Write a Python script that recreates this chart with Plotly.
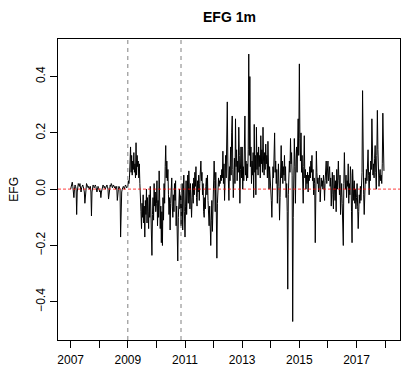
import numpy as np
import plotly.graph_objects as go

# Weekly EFG 1m series, one list per calendar year
efg_2007 = [0.00, 0.01, 0.02, 0.025, 0.01, -0.01, -0.03, 0.00, 0.015, 0.01, 0.00,
            -0.09,
            -0.01, 0.01, 0.02, 0.015, 0.01, 0.02, 0.00, -0.01, 0.005, 0.01, 0.015, 0.01, 0.00, -0.01,
            -0.05,
            -0.01, 0.01, 0.02, 0.015, 0.01, 0.005, 0.01, 0.00, 0.005, 0.01, -0.01,
            -0.095,
            -0.01, 0.01, 0.015, 0.01, 0.005, 0.01, 0.015, 0.01, 0.00, -0.01, 0.00, 0.01, 0.005]
efg_2008 = [0.00, -0.01, -0.005, -0.03,
            -0.01, 0.005, 0.01, 0.015, 0.01, 0.005, 0.01, 0.00, 0.005, 0.01, 0.015, 0.01, 0.00,
            -0.035,
            -0.005, 0.01, 0.015, 0.01, 0.02, 0.015, 0.005, 0.01, 0.015, 0.01, 0.005, 0.01, 0.00, 0.005, 0.01,
            -0.04,
            -0.005, 0.00, 0.01, 0.005, 0.00,
            -0.17,
            -0.02, -0.01, 0.00, 0.005, 0.01, 0.005, 0.00, 0.01, 0.015, 0.01, 0.005, 0.01]
efg_2009 = [0.01, 0.03, 0.02, 0.04, 0.08, 0.15, 0.06, 0.12, 0.05, 0.10, 0.07, 0.13, 0.06,
            0.09, 0.04, 0.165, 0.05, 0.12, 0.08, 0.10, 0.04, 0.09, 0.02, -0.01, -0.08, -0.14,
            -0.05, -0.10, -0.02, -0.12, -0.06, -0.17, -0.04, -0.09, 0.00, -0.12, -0.03, -0.08,
            -0.14, -0.02, -0.10, 0.01, -0.07, -0.13, -0.235, -0.09, -0.03, -0.11, 0.02, -0.06,
            -0.01, -0.08]
efg_2010 = [-0.05, 0.03, -0.13, -0.04, -0.10, 0.065, -0.02, -0.14, -0.06, -0.19, -0.08, -0.20,
            -0.03, -0.11, 0.02, -0.05, 0.08, 0.155, 0.04, 0.10, 0.03, 0.07, -0.02, -0.09, -0.03,
            -0.145, -0.05, 0.01, 0.04, -0.06, -0.10, -0.02, -0.08, 0.02, -0.04, 0.03, -0.13,
            -0.06, -0.18, -0.255, -0.10, -0.04, 0.00, -0.07, -0.02, -0.13, -0.05, 0.02, -0.145,
            -0.06, 0.05, -0.08]
efg_2011 = [-0.17, -0.06, 0.03, -0.09, -0.02, 0.05, -0.05, 0.065, 0.00, -0.07, 0.02, -0.04,
            -0.10, -0.03, 0.02, -0.05, 0.04, -0.02, 0.06, 0.01, 0.08, -0.03, -0.06, 0.03, -0.01,
            0.05, -0.04, 0.02, 0.07, 0.10, 0.03, 0.06, -0.02, 0.02, -0.08, -0.10, -0.03, -0.07,
            0.01, 0.04, -0.02, 0.05, -0.04, -0.09, -0.13, -0.06, -0.15, -0.20, -0.11, -0.04,
            -0.15, -0.08]
efg_2012 = [-0.02, 0.10, 0.03, -0.08, 0.06, -0.12, -0.245, -0.05, 0.02, 0.04, 0.01, 0.03,
            0.02, 0.05, 0.03, 0.07, 0.04, 0.135, 0.02, 0.09, -0.04, 0.06, 0.12, 0.04, 0.18,
            0.31, 0.10, 0.02, -0.04, 0.08, 0.03, 0.15, 0.05, 0.20, 0.26, 0.07, -0.03, 0.04,
            0.11, 0.02, 0.25, 0.08, 0.14, 0.03, 0.10, 0.06, 0.22, 0.12, -0.05, 0.07, 0.15, 0.04]
efg_2013 = [0.15, 0.00, 0.08, 0.03, 0.12, 0.26, 0.05, 0.10, 0.03, 0.09, 0.04, 0.14, 0.48,
            0.12, 0.40, 0.08, 0.15, 0.02, 0.10, 0.05, 0.13, -0.03, 0.23, 0.06, 0.12, -0.02,
            0.22, 0.07, 0.13, 0.05, 0.15, 0.08, 0.12, 0.04, 0.19, 0.09, 0.14, 0.06, 0.22, 0.10,
            0.05, 0.13, 0.07, 0.16, 0.09, 0.12, 0.04, 0.17, 0.06, 0.00, 0.08, 0.05]
efg_2014 = [0.03, -0.04, -0.10, 0.02, 0.08, 0.04, 0.12, 0.20, 0.06, 0.10, 0.02, 0.07, -0.05,
            0.03, 0.09, 0.01, -0.11, -0.03, 0.06, 0.155, 0.04, 0.10, 0.02, 0.08, 0.05, 0.12,
            0.03, 0.08, -0.03, 0.02, -0.08, -0.355, -0.02, 0.05, 0.10, 0.06, 0.18, 0.09, 0.13,
            0.05, -0.47, -0.10, 0.02, 0.18, 0.08, -0.05, 0.10, 0.15, 0.06, 0.20, 0.25, 0.12]
efg_2015 = [0.445, 0.18, 0.10, 0.20, 0.06, 0.12, 0.00, -0.05, 0.08, 0.19, 0.04, 0.07, 0.00,
            0.05, 0.02, 0.06, -0.01, 0.05, 0.03, 0.08, 0.04, 0.10, 0.06, 0.12, 0.03, 0.07,
            -0.02, 0.04, 0.02, -0.19, 0.05, 0.135, 0.06, 0.02, 0.04, -0.01, 0.03, 0.05, -0.045,
            0.02, 0.04, 0.01, 0.03, 0.00, 0.05, 0.02, -0.04, 0.03, 0.06, 0.10, 0.02, 0.08]
efg_2016 = [0.10, 0.03, 0.06, 0.08, 0.01, 0.04, -0.06, 0.02, 0.06, -0.02, -0.07, 0.05, 0.01,
            -0.04, 0.03, -0.08, 0.07, 0.00, 0.04, 0.10, 0.03, -0.02, 0.05, -0.09, -0.03, 0.02,
            -0.05, -0.12, -0.20, 0.02, 0.13, 0.04, 0.00, 0.05, -0.03, 0.03, 0.01, 0.09, -0.05,
            0.02, -0.02, 0.08, 0.05, -0.08, -0.19, 0.07, 0.01, -0.04, 0.03, -0.05, 0.00, -0.07]
efg_2017 = [-0.03, 0.02, -0.06, -0.14, -0.08, -0.02, -0.05, 0.01, -0.04, 0.03, 0.06, 0.35,
            0.05, -0.02, -0.09, 0.00, 0.04, 0.02, 0.07, 0.03, 0.09, 0.14, 0.05, -0.02, 0.06,
            0.03, 0.10, 0.07, 0.25, 0.12, 0.05, 0.09, 0.04, 0.11, 0.155, 0.06, 0.00, 0.12,
            0.28, 0.14, 0.10, 0.01, 0.05, 0.07, 0.03, 0.05, 0.02, 0.09, 0.27, 0.10, 0.065]

years = [2007, 2008, 2009, 2010, 2011, 2012, 2013, 2014, 2015, 2016, 2017]
series_by_year = [efg_2007, efg_2008, efg_2009, efg_2010, efg_2011, efg_2012,
                  efg_2013, efg_2014, efg_2015, efg_2016, efg_2017]

# Event markers (decimal years) and axis labelling
event_dates = [2009.0, 2010.86]
x_tick_years = list(range(2007, 2019))
x_label_years = [2007, 2009, 2011, 2013, 2015, 2017]
y_ticks = [-0.4, -0.2, 0.0, 0.2, 0.4]
y_tick_text = ["\u22120.4", "\u22120.2", "0.0", "0.2", "0.4"]

# Weekly time index in decimal years
t, v = [], []
for yr, vals in zip(years, series_by_year):
    for j, val in enumerate(vals):
        t.append(yr + j / 52.18)
        v.append(val)

FONT = "Liberation Sans, Arial, Helvetica, sans-serif"

fig = go.Figure()
fig.add_trace(go.Scatter(x=t, y=v, mode="lines",
                         line=dict(color="black", width=1), hoverinfo="skip",
                         showlegend=False))

shapes = []
for d in event_dates:
    shapes.append(dict(type="line", xref="x", yref="paper", x0=d, x1=d, y0=0, y1=1,
                       line=dict(color="#808080", width=1, dash="4px,4px")))
shapes.append(dict(type="line", xref="paper", yref="y", x0=0, x1=1, y0=0, y1=0,
                   line=dict(color="rgba(255,0,0,0.6)", width=1.2, dash="3px,2px")))

fig.update_layout(
    width=403, height=369,
    margin=dict(l=58, r=2, t=39, b=24),
    paper_bgcolor="white", plot_bgcolor="white",
    font=dict(family=FONT, size=12, color="black"),
    shapes=shapes,
    xaxis=dict(range=[2006.558, 2018.52], showgrid=False, zeroline=False,
               showline=True, mirror=True, linecolor="black", linewidth=1,
               tickmode="array", tickvals=x_tick_years,
               ticktext=[str(y) if y in x_label_years else "" for y in x_tick_years],
               ticks="outside", ticklen=7, tickcolor="black", tickwidth=1,
               ticklabelstandoff=2, tickfont=dict(color="black")),
    yaxis=dict(range=[-0.5356, 0.5334], showgrid=False, zeroline=False,
               showline=True, mirror=True, linecolor="black", linewidth=1,
               tickmode="array", tickvals=y_ticks, ticktext=y_tick_text,
               tickangle=-90, ticks="outside", ticklen=7, tickcolor="black", tickwidth=1,
               tickfont=dict(color="black")),
    annotations=[
        dict(text="<b>EFG 1m</b>", xref="paper", yref="paper", x=0.5, y=1.072,
             xanchor="center", yanchor="middle", showarrow=False,
             font=dict(family=FONT, size=14, color="black")),
        dict(text="EFG", xref="paper", yref="paper", x=-0.131, y=0.5,
             xanchor="center", yanchor="middle", showarrow=False, textangle=-90,
             font=dict(family=FONT, size=12, color="black")),
    ],
)

fig.write_html("out.html")
